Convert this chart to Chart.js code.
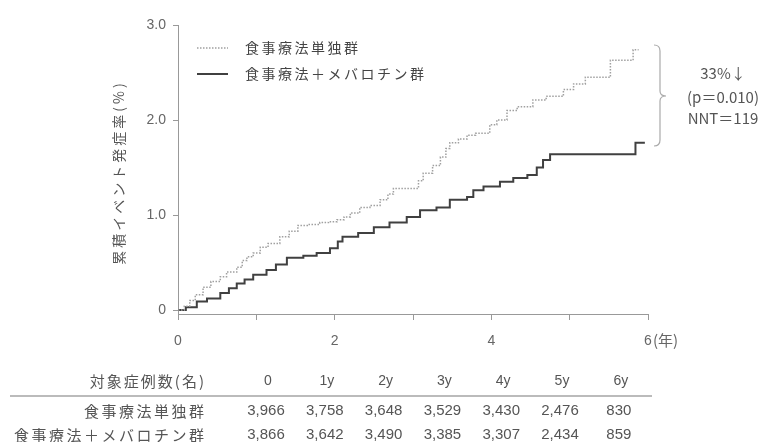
<!DOCTYPE html>
<html>
<head>
<meta charset="utf-8">
<script src="https://cdn.jsdelivr.net/npm/chart.js@4.4.0/dist/chart.umd.min.js"></script>
<style>
html,body{margin:0;padding:0;background:#fff;}
#wrap{width:768px;height:442px;position:relative;}
</style>
</head>
<body>
<div id="wrap"><canvas id="c" width="768" height="442"></canvas></div>
<script>
// ---- data ----
const seriesNames = ['食事療法単独群', '食事療法＋メバロチン群'];
const ctrlYears = [0,0.08,0.15,0.22,0.32,0.42,0.54,0.62,0.75,0.82,0.88,0.96,1.05,1.15,1.3,1.42,1.53,1.65,1.81,1.92,2.03,2.12,2.2,2.32,2.45,2.58,2.68,2.75,3.07,3.13,3.25,3.35,3.42,3.47,3.58,3.69,3.8,3.98,4.07,4.2,4.33,4.53,4.7,4.92,5.05,5.2,5.52,5.81,5.88];
const ctrlRates = [0,0.04,0.1,0.16,0.24,0.3,0.35,0.4,0.45,0.52,0.56,0.6,0.66,0.7,0.77,0.83,0.89,0.9,0.92,0.93,0.95,0.98,1.02,1.08,1.1,1.16,1.22,1.28,1.36,1.44,1.52,1.61,1.7,1.76,1.8,1.84,1.86,1.95,2.0,2.1,2.14,2.21,2.25,2.32,2.38,2.45,2.63,2.74,2.74];
const mevYears = [0,0.1,0.24,0.37,0.54,0.65,0.75,0.85,0.96,1.13,1.25,1.39,1.6,1.77,1.94,2.04,2.1,2.3,2.5,2.7,2.92,3.09,3.3,3.47,3.69,3.77,3.9,4.11,4.28,4.46,4.58,4.66,4.75,5.84,5.96];
const mevRates = [0,0.03,0.09,0.12,0.18,0.23,0.28,0.32,0.37,0.42,0.48,0.55,0.57,0.6,0.65,0.72,0.77,0.81,0.87,0.92,0.98,1.05,1.08,1.16,1.19,1.26,1.3,1.35,1.39,1.42,1.5,1.58,1.64,1.76,1.76];
const yTicks = [0, 1, 2, 3];
const xLabelTicks = [0, 2, 4, 6];
const tableHeader = '対象症例数(名)';
const tableCols = ['0','1y','2y','3y','4y','5y','6y'];
const ctrlN = ['3,966','3,758','3,648','3,529','3,430','2,476','830'];
const mevN = ['3,866','3,642','3,490','3,385','3,307','2,434','859'];
const annotLines = ['33%↓', '(p＝0.010)', 'NNT＝119'];
const yTitle = '累積イベント発症率(%)';
const xUnit = '(年)';

const toPts = (xs, ys) => xs.map((x, i) => ({x: x, y: ys[i]}));
const LAT = "'Liberation Sans Narrow','Liberation Sans',Arial,sans-serif";
const CJK = "'Noto Sans CJK JP','Noto Sans',sans-serif";

function spaced(ctx, text, x, y, align, spacing) {
  ctx.save();
  ctx.letterSpacing = spacing + 'px';
  let w = ctx.measureText(text).width - spacing;
  ctx.textAlign = 'left';
  let sx = align === 'right' ? x - w : (align === 'center' ? x - w / 2 : x);
  ctx.fillText(text, sx, y);
  ctx.restore();
}

const extras = {
  id: 'extras',
  afterDraw(chart) {
    const ctx = chart.ctx;
    const xs = chart.scales.x;
    ctx.save();
    // y title
    ctx.fillStyle = '#555';
    ctx.font = "14px " + CJK;
    ctx.textBaseline = 'middle';
    ctx.translate(119, 174);
    ctx.rotate(-Math.PI / 2);
    spaced(ctx, yTitle, 0, 0, 'center', 3);
    ctx.restore();

    ctx.save();
    // x unit
    ctx.fillStyle = '#666';
    ctx.font = "15px " + CJK;
    ctx.textAlign = 'left'; ctx.textBaseline = 'middle';
    ctx.fillText(xUnit, xs.getPixelForValue(6) + 5, 340);

    // legend
    const ds = chart.data.datasets;
    [48, 74].forEach((yy, i) => {
      ctx.beginPath();
      ctx.strokeStyle = ds[i].borderColor;
      ctx.lineWidth = ds[i].borderWidth;
      ctx.setLineDash(ds[i].borderDash || []);
      ctx.moveTo(197, yy); ctx.lineTo(228, yy);
      ctx.stroke();
      ctx.setLineDash([]);
      ctx.fillStyle = '#444';
      ctx.font = "14px " + CJK;
      ctx.textBaseline = 'middle';
      spaced(ctx, ds[i].label, 245, yy, 'left', 2.5);
    });

    // brace
    const bx = 660, top = 45, bot = 146, mid = 96;
    ctx.beginPath();
    ctx.strokeStyle = '#aaa';
    ctx.lineWidth = 1.2;
    ctx.moveTo(bx - 6, top);
    ctx.quadraticCurveTo(bx, top, bx, top + 6);
    ctx.lineTo(bx, mid - 5);
    ctx.quadraticCurveTo(bx, mid, bx + 6, mid);
    ctx.quadraticCurveTo(bx, mid, bx, mid + 5);
    ctx.lineTo(bx, bot - 6);
    ctx.quadraticCurveTo(bx, bot, bx - 6, bot);
    ctx.stroke();

    // annotation text
    ctx.fillStyle = '#555';
    ctx.textBaseline = 'middle';
    ctx.font = "15px " + CJK;
    [73, 97, 118].forEach((yy, i) => {
      spaced(ctx, annotLines[i], 723, yy, 'center', 0);
    });

    // table
    const colX = tableCols.map((_, i) => 266 + 58.8 * i);
    ctx.textBaseline = 'middle';
    ctx.fillStyle = '#555';
    ctx.font = "15px " + CJK;
    spaced(ctx, tableHeader, 204, 381, 'right', 2);
    spaced(ctx, seriesNames[0], 204, 411, 'right', 2.5);
    spaced(ctx, seriesNames[1], 204, 435, 'right', 2.5);
    ctx.textAlign = 'center';
    ctx.font = "14px " + LAT;
    tableCols.forEach((t, i) => ctx.fillText(t, colX[i] + 2, 381));
    ctx.font = "15px " + LAT;
    ctrlN.forEach((t, i) => ctx.fillText(t, colX[i], 411));
    mevN.forEach((t, i) => ctx.fillText(t, colX[i], 435));
    ctx.beginPath();
    ctx.strokeStyle = '#bbb';
    ctx.lineWidth = 2;
    ctx.moveTo(10, 396); ctx.lineTo(652, 396);
    ctx.stroke();
    ctx.restore();
  }
};

new Chart(document.getElementById('c'), {
  type: 'line',
  data: {
    datasets: [
      { label: seriesNames[0], data: toPts(ctrlYears, ctrlRates), stepped: 'before',
        borderColor: '#a0a0a0', borderWidth: 1.5, borderDash: [1.5, 1.5], pointRadius: 0, fill: false },
      { label: seriesNames[1], data: toPts(mevYears, mevRates), stepped: 'before',
        borderColor: '#404040', borderWidth: 2, pointRadius: 0, fill: false }
    ]
  },
  options: {
    responsive: false,
    animation: false,
    layout: { padding: { left: 0, right: 120, top: 25, bottom: 0 } },
    plugins: { legend: { display: false }, tooltip: { enabled: false } },
    scales: {
      x: {
        type: 'linear', min: 0, max: 6,
        afterFit: s => { s.height = 128; },
        ticks: { stepSize: 1, padding: 13, color: '#666', font: { size: 14, family: LAT },
          callback: v => xLabelTicks.includes(v) ? String(v) : '' , maxRotation: 0, autoSkip: false },
        grid: { drawOnChartArea: false, drawTicks: true, tickLength: 6, color: '#999' },
        border: { display: true, color: '#999', width: 1 }
      },
      y: {
        min: -0.042, max: 3,
        afterFit: s => { s.width = 178; },
        afterBuildTicks: s => { s.ticks = yTicks.map(v => ({ value: v })); },
        ticks: { padding: 7, color: '#666', font: { size: 14, family: LAT },
          callback: v => v === 0 ? '0' : Number(v).toFixed(1) },
        grid: { drawOnChartArea: false, drawTicks: true, tickLength: 5, color: '#999' },
        border: { display: true, color: '#999', width: 1 }
      }
    }
  },
  plugins: [extras]
});
</script>
</body>
</html>
